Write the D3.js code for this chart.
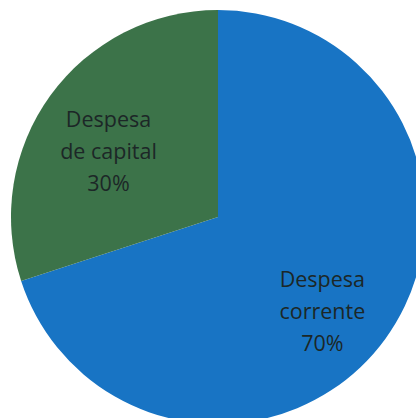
<!DOCTYPE html>
<html>
<head>
<meta charset="utf-8">
<script src="https://cdn.jsdelivr.net/npm/d3@7"></script>
<style>
  html, body { margin: 0; padding: 0; background: #fff; }
  svg { display: block; }
  .label { font-family: "Open Sans", sans-serif; font-size: 21.5px; fill: #1c2727; }
</style>
</head>
<body>
<div id="chart"></div>
<script>
var CATEGORIES = ["Despesa corrente", "Despesa de capital"];
var VALUES = [70, 30];
var LABEL_LINES = [["Despesa", "corrente", "70%"], ["Despesa", "de capital", "30%"]];
var COLORS = ["#1874c4", "#3c7349"];

var WIDTH = 416;
var HEIGHT = 418;
var CX = 218, CY = 217;
var RADIUS = 207;
// label placement: radius and angle nudge (degrees) per slice
var LABEL_R = [146, 124];
var LABEL_NUDGE = [8.4, -8];
var LINE_H = 32;

var svg = d3.select("#chart")
  .append("svg")
  .attr("width", WIDTH)
  .attr("height", HEIGHT);

var g = svg.append("g")
  .attr("transform", "translate(" + CX + "," + CY + ")");

var pie = d3.pie()
  .value(function(d) { return d; })
  .sort(null);

var arc = d3.arc()
  .innerRadius(0)
  .outerRadius(RADIUS);

var slices = pie(VALUES);

g.selectAll("path")
  .data(slices)
  .enter()
  .append("path")
  .attr("d", arc)
  .attr("fill", function(d, i) { return COLORS[i]; });

var labels = g.selectAll("text.label")
  .data(slices)
  .enter()
  .append("text")
  .attr("class", "label")
  .attr("text-anchor", "middle")
  .attr("transform", function(d, i) {
    var a = (d.startAngle + d.endAngle) / 2 + LABEL_NUDGE[i] * Math.PI / 180;
    var r = LABEL_R[i];
    return "translate(" + (r * Math.sin(a)) + "," + (-r * Math.cos(a)) + ")";
  });

labels.each(function(d, i) {
  var t = d3.select(this);
  LABEL_LINES[i].forEach(function(line, k) {
    t.append("tspan")
      .attr("x", 0)
      .attr("y", (k - 1) * LINE_H)
      .text(line);
  });
});
</script>
</body>
</html>
